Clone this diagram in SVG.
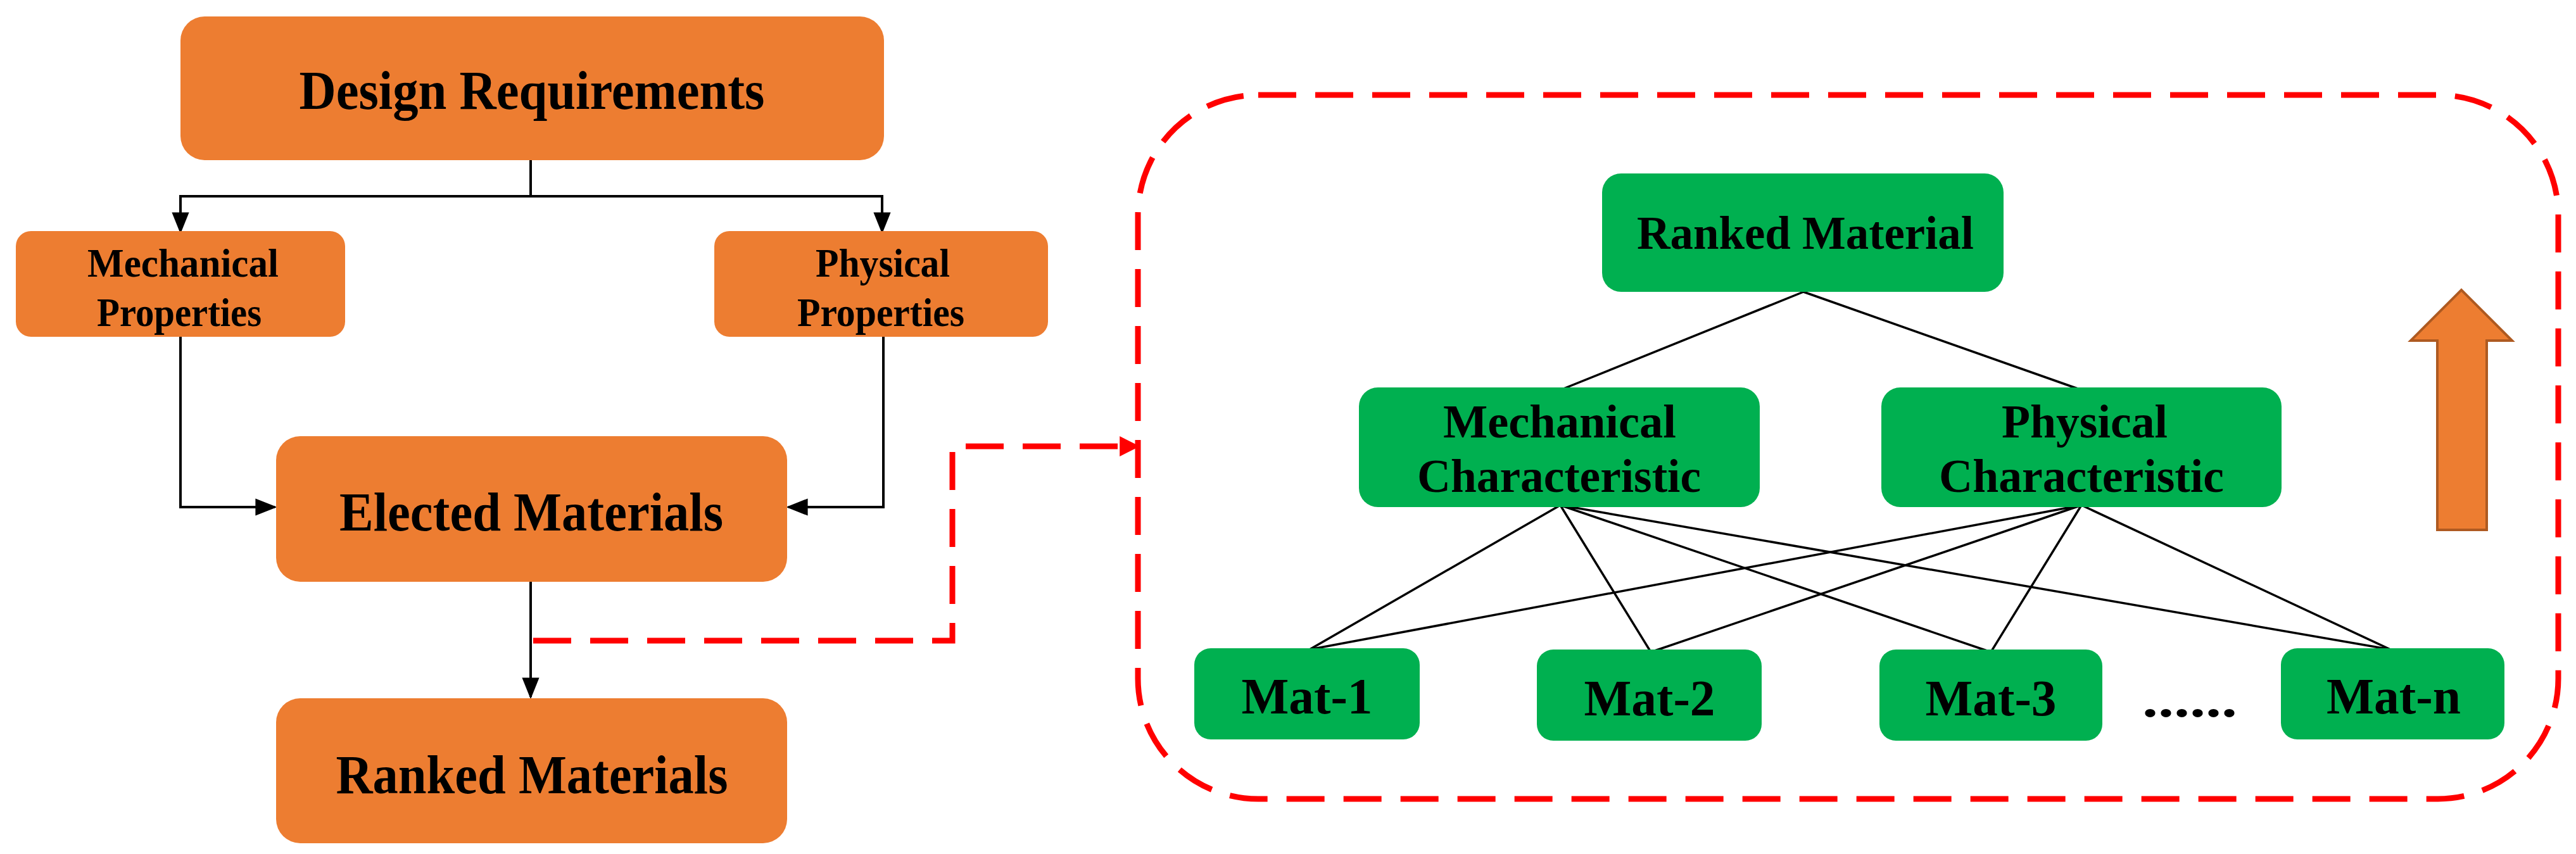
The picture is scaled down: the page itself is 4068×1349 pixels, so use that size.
<svg xmlns="http://www.w3.org/2000/svg" width="4068" height="1349" viewBox="0 0 4068 1349">
<style>
.o{fill:#ED7D31}
.g{fill:#00B050}
text{font-family:"Liberation Serif",serif;font-weight:bold;fill:#000;text-anchor:middle;dominant-baseline:central}
.c{stroke:#000;stroke-width:4;fill:none}
.t{stroke:#000;stroke-width:3.5;fill:none}
.r{stroke:#FF0000;stroke-width:9;fill:none;stroke-dasharray:60 30}
</style>
<defs>
<marker id="a" markerWidth="10" markerHeight="10" refX="9" refY="5" orient="auto" markerUnits="userSpaceOnUse" viewBox="0 0 10 10"><path d="M0,0L10,5L0,10z" fill="#000"/></marker>
<marker id="ar" viewBox="0 0 10 10" refX="9" refY="5" markerWidth="32" markerHeight="32" orient="auto" markerUnits="userSpaceOnUse"><path d="M0,0L10,5L0,10z" fill="#FF0000"/></marker>
<marker id="ab" viewBox="0 0 10 10" refX="9" refY="5" markerWidth="34" markerHeight="34" orient="auto" markerUnits="userSpaceOnUse"><path d="M0,1L10,5L0,9z" fill="#000"/></marker>
</defs>
<g id="connectors">
<path class="c" d="M838,253V310H285V366" marker-end="url(#ab)"/>
<path class="c" d="M838,310H1393V366" marker-end="url(#ab)"/>
<path class="c" d="M285,532V801H434" marker-end="url(#ab)"/>
<path class="c" d="M1395,532V801H1245" marker-end="url(#ab)"/>
<path class="c" d="M838,919V1101" marker-end="url(#ab)"/>
<path class="r" d="M842,1012H1504V705H1797" marker-end="url(#ar)"/>
<path class="t" d="M2848,461L2464,616M2848,461L3287,616"/>
<path class="t" d="M2464,798L2068,1026M2464,798L2607,1030M2464,798L3144,1030M2464,798L3775,1026"/>
<path class="t" d="M3287,798L2068,1026M3287,798L2607,1030M3287,798L3144,1030M3287,798L3775,1026"/>
</g>
<rect x="1797" y="150" width="2243" height="1112" rx="190" class="r"/>
<g id="design"><rect class="o" x="285" y="26" width="1111" height="227" rx="38"/><text x="840" y="143" font-size="86" textLength="735" lengthAdjust="spacingAndGlyphs">Design Requirements</text></g>
<g id="mech"><rect class="o" x="25" y="365" width="520" height="167" rx="24"/><text x="289" y="415" font-size="64" textLength="302" lengthAdjust="spacingAndGlyphs">Mechanical</text><text x="283" y="493" font-size="64" textLength="260" lengthAdjust="spacingAndGlyphs">Properties</text></g>
<g id="phys"><rect class="o" x="1128" y="365" width="527" height="167" rx="24"/><text x="1394" y="415" font-size="64" textLength="212" lengthAdjust="spacingAndGlyphs">Physical</text><text x="1391" y="493" font-size="64" textLength="264" lengthAdjust="spacingAndGlyphs">Properties</text></g>
<g id="elected"><rect class="o" x="436" y="689" width="807" height="230" rx="38"/><text x="839" y="809" font-size="86" textLength="606" lengthAdjust="spacingAndGlyphs">Elected Materials</text></g>
<g id="ranked"><rect class="o" x="436" y="1103" width="807" height="229" rx="38"/><text x="840" y="1224" font-size="86" textLength="619" lengthAdjust="spacingAndGlyphs">Ranked Materials</text></g>
<g id="rankedMat"><rect class="g" x="2530" y="274" width="634" height="187" rx="30"/><text x="2851" y="368" font-size="74" textLength="532" lengthAdjust="spacingAndGlyphs">Ranked Material</text></g>
<g id="mechChar"><rect class="g" x="2146" y="612" width="633" height="189" rx="30"/><text x="2463" y="666" font-size="74" textLength="368" lengthAdjust="spacingAndGlyphs">Mechanical</text><text x="2462" y="752" font-size="74" textLength="448" lengthAdjust="spacingAndGlyphs">Characteristic</text></g>
<g id="physChar"><rect class="g" x="2971" y="612" width="632" height="189" rx="30"/><text x="3292" y="666" font-size="74" textLength="262" lengthAdjust="spacingAndGlyphs">Physical</text><text x="3287" y="752" font-size="74" textLength="450" lengthAdjust="spacingAndGlyphs">Characteristic</text></g>
<g id="mat1"><rect class="g" x="1886" y="1024" width="356" height="144" rx="26"/><text x="2064" y="1100" font-size="80" textLength="207" lengthAdjust="spacingAndGlyphs">Mat-1</text></g>
<g id="mat2"><rect class="g" x="2427" y="1026" width="355" height="144" rx="26"/><text x="2605" y="1103" font-size="80" textLength="207" lengthAdjust="spacingAndGlyphs">Mat-2</text></g>
<g id="mat3"><rect class="g" x="2968" y="1026" width="352" height="144" rx="26"/><text x="3144" y="1103" font-size="80" textLength="207" lengthAdjust="spacingAndGlyphs">Mat-3</text></g>
<g id="dots"><text x="3458" y="1105" font-size="80" textLength="150" lengthAdjust="spacingAndGlyphs">......</text></g>
<g id="matn"><rect class="g" x="3602" y="1024" width="353" height="144" rx="26"/><text x="3780" y="1100" font-size="80" textLength="212" lengthAdjust="spacingAndGlyphs">Mat-n</text></g>
<g id="upArrow"><path d="M3849,837V538H3807L3887,458L3967,538H3927V837z" fill="#ED7D31" stroke="#AE5A21" stroke-width="4"/></g>
</svg>
